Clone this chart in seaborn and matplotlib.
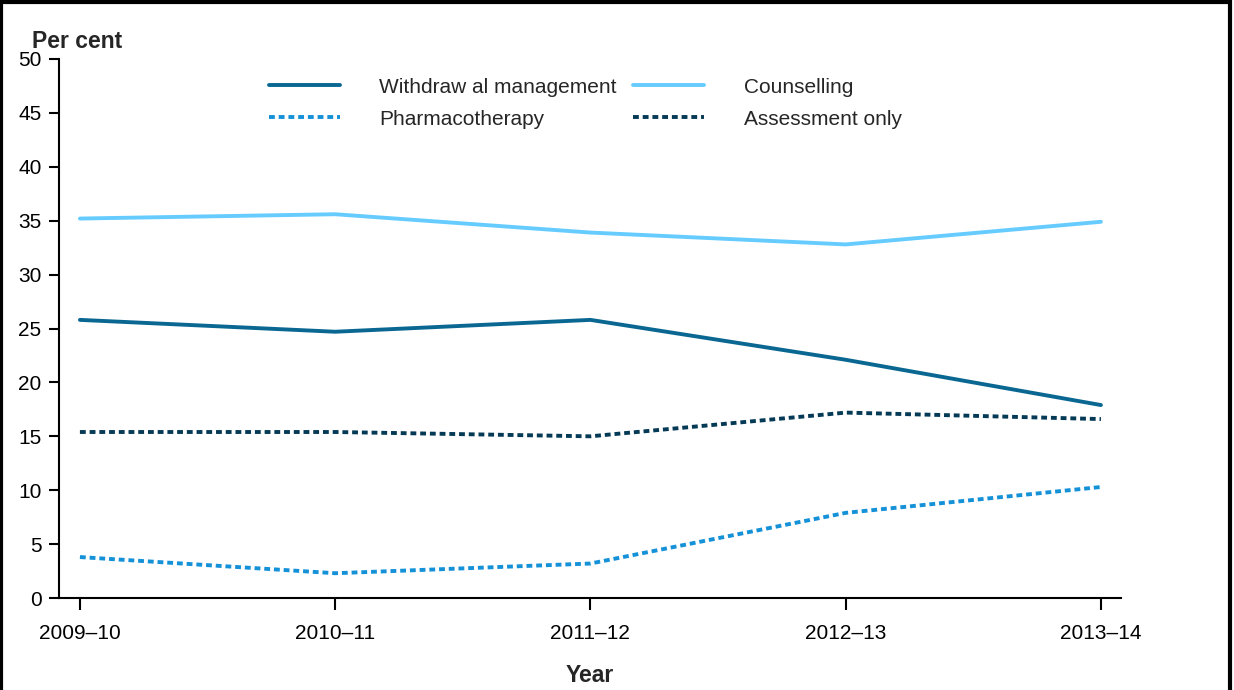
import seaborn as sns
import pandas as pd
import matplotlib.pyplot as plt
from matplotlib.patches import Rectangle

# DATA
years = ["2009–10", "2010–11", "2011–12", "2012–13", "2013–14"]
withdrawal = [25.8, 24.7, 25.8, 22.1, 17.9]
counselling = [35.2, 35.6, 33.9, 32.8, 34.9]
pharmacotherapy = [3.8, 2.3, 3.2, 7.9, 10.3]
assessment = [15.4, 15.4, 15.0, 17.2, 16.6]

names = ["Withdraw al management", "Counselling", "Pharmacotherapy", "Assessment only"]
series = [withdrawal, counselling, pharmacotherapy, assessment]

rows = []
for name, vals in zip(names, series):
    for i, v in enumerate(vals):
        rows.append({"Year": i, "Per cent": v, "Type": name})
df = pd.DataFrame(rows)

# STYLE
sns.set_style("ticks")
plt.rcParams["font.family"] = ["Liberation Sans", "DejaVu Sans"]

colours = {"Withdraw al management": "#0a6792",
           "Counselling": "#66ccff",
           "Pharmacotherapy": "#1591d8",
           "Assessment only": "#053a56"}
dashes = {"Withdraw al management": "",
          "Counselling": "",
          "Pharmacotherapy": (1.5, 1.0),
          "Assessment only": (1.5, 1.0)}

fig = plt.figure(figsize=(12.34, 6.90), dpi=100)
ax = fig.add_axes([0.0478, 0.1333, 0.8605, 0.7812])

sns.lineplot(data=df, x="Year", y="Per cent", hue="Type", style="Type",
             palette=colours, dashes=dashes, linewidth=2.8, ax=ax, legend=False)

ax.set_xlim(-0.082, 4.078)
ax.set_ylim(0, 50)
ax.set_xticks(range(len(years)))
ax.set_xticklabels(years)
ax.set_yticks(range(0, 51, 5))
ax.tick_params(axis="both", labelsize=15, colors="black", width=1.5)
ax.tick_params(axis="x", length=8.5, pad=10)
ax.tick_params(axis="y", length=7.5, pad=5)
for s in ["left", "bottom"]:
    ax.spines[s].set_linewidth(1.5)
    ax.spines[s].set_color("black")
sns.despine(ax=ax)

ax.set_xlabel("Year", fontsize=16.5, fontweight="bold", labelpad=15)
ax.set_ylabel("")
fig.text(0.026, 0.931, "Per cent", fontsize=16.5, fontweight="bold", va="baseline")

# LEGEND (column order for ncol=2)
handles = ax.get_lines()
order = [0, 2, 1, 3]
leg = ax.legend([handles[i] for i in order], [names[i] for i in order],
                ncol=2, frameon=False, fontsize=15, loc="upper left",
                bbox_to_anchor=(0.18, 1.0), handlelength=3.4,
                handletextpad=1.9, columnspacing=0.8, labelspacing=0.62)

# FIGURE BORDER
fig.patches.append(Rectangle((0.001, -0.01), 0.996, 1.007, transform=fig.transFigure,
                             fill=False, edgecolor="black", linewidth=3))

fig.savefig("out.png", dpi=100)
